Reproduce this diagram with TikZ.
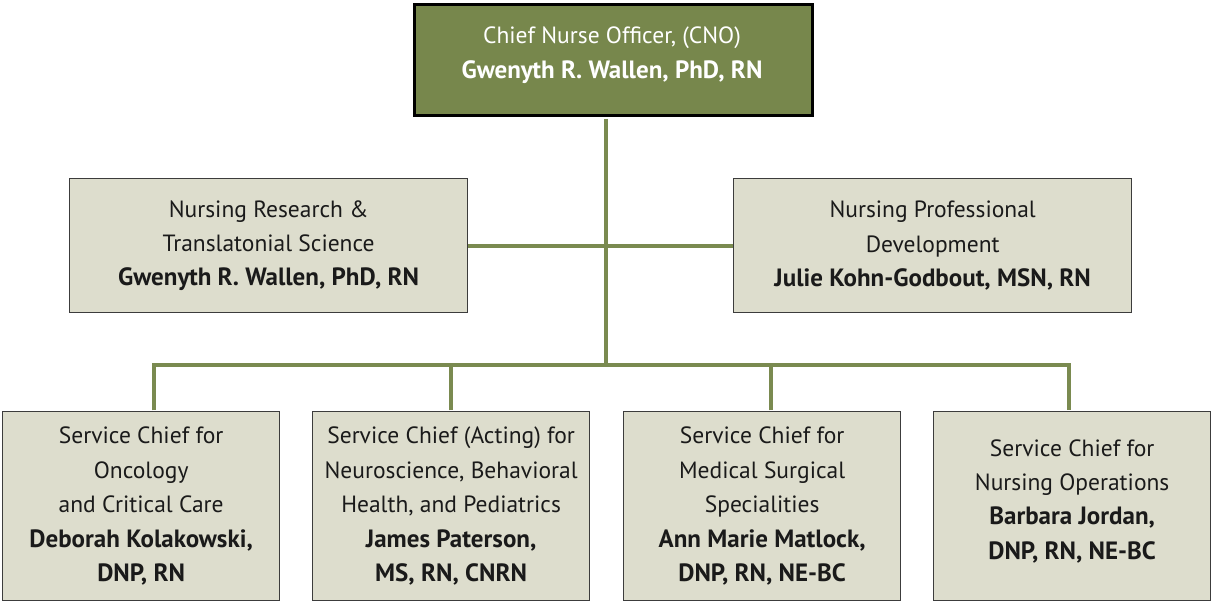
\documentclass[tikz,border=0pt]{standalone}
\usepackage{fontspec}
\setmainfont{PT Sans}
\definecolor{olive}{HTML}{77874C}
\definecolor{lineol}{HTML}{7A8A50}
\definecolor{pale}{HTML}{DDDDCD}
\definecolor{ink}{HTML}{1A1A1A}
\newcommand{\bn}[1]{{\fontsize{25}{34.4}\selectfont\bfseries #1}}
\tikzset{
  pbox/.style={draw=ink!85, line width=1.3pt, fill=pale, inner sep=0pt, anchor=north west},
  cnobox/.style={draw=black, line width=3pt, fill=olive, inner sep=0pt, anchor=north west},
  txt/.style={align=center, text=ink, inner sep=0pt, font=\fontsize{23.5}{34.4}\selectfont},
  wtxt/.style={txt, text=white},
  conn/.style={draw=lineol, line width=4pt}
}
\begin{document}
\begin{tikzpicture}[x=1pt,y=-1pt]
\useasboundingbox (0,0) rectangle (1211,602);
\node[cnobox, minimum width=398pt, minimum height=111pt] (cno) at (413,3) {};
\node[pbox, minimum width=398pt, minimum height=134pt] (res) at (69,178) {};
\node[pbox, minimum width=398pt, minimum height=134pt] (dev) at (733,178) {};
\node[pbox, minimum width=277pt, minimum height=189pt] (b1) at (2,411) {};
\node[pbox, minimum width=277pt, minimum height=189pt] (b2) at (312,411) {};
\node[pbox, minimum width=277pt, minimum height=189pt] (b3) at (623,411) {};
\node[pbox, minimum width=277pt, minimum height=189pt] (b4) at (933,411) {};
\coordinate (bus) at (605.5,365);
\draw[conn] ([yshift=-1.5pt]cno.south -| bus) -- (bus);
\draw[conn] (res.east) -- (dev.west);
\draw[conn] ([xshift=12.5pt,yshift=0.6pt]b1.north) |- (bus) -| ([xshift=-3.5pt,yshift=0.6pt]b4.north);
\draw[conn] ([yshift=0.6pt]b2.north) -- (b2.north |- bus);
\draw[conn] ([xshift=8.5pt,yshift=0.6pt]b3.north) -- ([xshift=8.5pt]b3.north |- bus);
\node[wtxt] (cnot) at (612,55) {Chief Nurse Officer, (CNO)\\\bn{Gwenyth R. Wallen, PhD, RN}};
\node[txt] (rest) at (res.center) {Nursing Research \&\\Translatonial Science\\\bn{Gwenyth R. Wallen, PhD, RN}};
\node[txt] (devt) at (dev.center) {Nursing Professional\\Development\\\bn{Julie Kohn-Godbout, MSN, RN}};
\node[txt] (b1t) at (b1.center) {Service Chief for\\Oncology\\and Critical Care\\\bn{Deborah Kolakowski,}\\\bn{DNP, RN}};
\node[txt] (b2t) at (b2.center) {Service Chief (Acting) for\\Neuroscience, Behavioral\\Health, and Pediatrics\\\bn{James Paterson,}\\\bn{MS, RN, CNRN}};
\node[txt] (b3t) at (b3.center) {Service Chief for\\Medical Surgical\\Specialities\\\bn{Ann Marie Matlock,}\\\bn{DNP, RN, NE-BC}};
\node[txt] (b4t) at ([yshift=5pt]b4.center) {Service Chief for\\Nursing Operations\\\bn{Barbara Jordan,}\\\bn{DNP, RN, NE-BC}};
\end{tikzpicture}
\end{document}
